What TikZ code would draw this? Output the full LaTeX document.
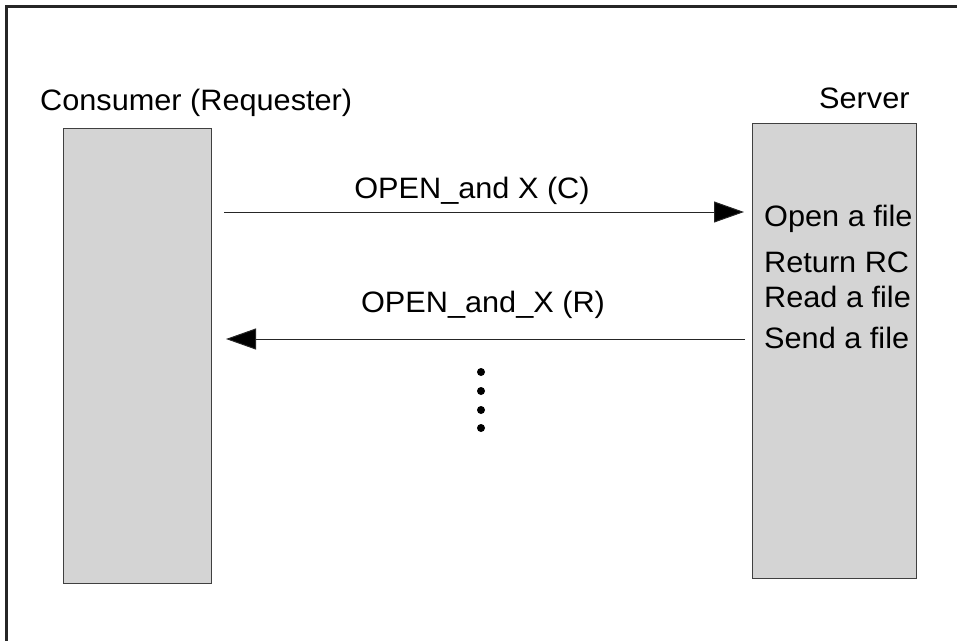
\documentclass[tikz,border=0pt]{standalone}
\usepackage{fontspec}
\setmainfont[FakeStretch=1.04]{Liberation Sans}
\usetikzlibrary{arrows.meta}
\begin{document}
\begin{tikzpicture}[x=1pt,y=-1pt,
  lbl/.style={font=\fontsize{29.5}{34}\selectfont, inner sep=0pt},
  pbox/.style={draw=black!75, line width=1pt, fill=black!17, inner sep=0pt},
  msg/.style={draw=black!85, line width=1pt, -{Triangle[length=30pt,width=21pt,fill=black]}},
  dotn/.style={circle, fill=black, inner sep=0pt, minimum size=8pt}]
\useasboundingbox (0,0) rectangle (957,640);
% frame
\draw[line width=2.2pt, black!85] (6.5,645) -- (6.5,6.5) -- (962,6.5);
% boxes
\node[pbox, minimum width=148pt, minimum height=455pt] (cbox) at (137,355.5) {};
\node[pbox, minimum width=164pt, minimum height=455pt] (sbox) at (834,350.5) {};
% titles
\node[lbl, anchor=base west] (ctitle) at (40,110) {Consumer (Requester)};
\node[lbl, anchor=base west] (stitle) at (819,108) {Server};
% server steps
\node[lbl, anchor=base west] (s1) at (764,226) {Open a file};
\node[lbl, anchor=base west] (s2) at (764,272) {Return RC};
\node[lbl, anchor=base west] (s3) at (764,307) {Read a file};
\node[lbl, anchor=base west] (s4) at (764,348) {Send a file};
% messages
\coordinate (a1s) at (224,212);
\coordinate (a1e) at (744,212);
\coordinate (a2s) at (745,339);
\coordinate (a2e) at (226,339);
\draw[msg] (a1s) -- (a1e);
\draw[msg] (a2s) -- (a2e);
\node[lbl, anchor=base] (m1) at (472,198) {OPEN\_and X (C)};
\node[lbl, anchor=base] (m2) at (483,312) {OPEN\_and\_X (R)};
% continuation dots
\node[dotn] (d1) at (481,372) {};
\node[dotn] (d2) at (481,391) {};
\node[dotn] (d3) at (481,410) {};
\node[dotn] (d4) at (481,428) {};
\end{tikzpicture}
\end{document}
